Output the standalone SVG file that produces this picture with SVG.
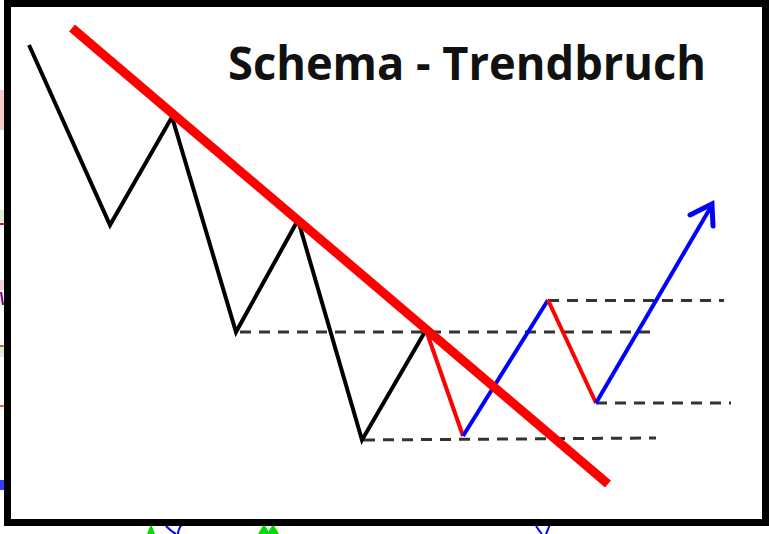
<svg xmlns="http://www.w3.org/2000/svg" width="769" height="534" viewBox="0 0 769 534">
<style>
.zz{fill:none;stroke-width:4;stroke-linejoin:miter;stroke-linecap:butt}
.dash{fill:none;stroke:#333;stroke-width:3;stroke-dasharray:11 8}
.title{font-family:"Open Sans","Liberation Sans",sans-serif;font-weight:bold;font-size:46px;fill:#111}
</style>
<rect x="0" y="0" width="769" height="534" fill="#fff"/>
<g id="background-artifacts">
<rect x="0" y="90" width="4" height="40" fill="#f4caca"/>
<rect x="0" y="210" width="4" height="12" fill="#d8f0d8"/>
<rect x="0" y="223" width="4" height="2" fill="#f00"/>
<rect x="0" y="280" width="4" height="10" fill="#f4d0d0"/>
<path d="M1 292 L3 305" stroke="#800080" stroke-width="2"/>
<rect x="0" y="345" width="4" height="12" fill="#d8f0d8"/>
<rect x="0" y="345" width="4" height="2" fill="#e06030"/>
<rect x="0" y="405" width="4" height="2" fill="#e06030"/>
<rect x="0" y="480" width="4" height="10" fill="#3040ff"/>
<polygon points="147,534 151,524 155,534" fill="#00dd00"/>
<path d="M166 526 Q172 532 176 534 M182 524 Q178 530 178 534" stroke="#0000ff" stroke-width="2" fill="none"/>
<polygon points="258,534 264,524 270,534" fill="#00dd00"/>
<polygon points="267,534 273,524 279,534" fill="#00dd00"/>
<path d="M536 526 Q540 532 542 534 M550 524 Q548 530 546 534" stroke="#0000ff" stroke-width="2" fill="none"/>
</g>
<g id="frame">
<rect x="7.5" y="3.5" width="758" height="519" fill="none" stroke="#000" stroke-width="7"/>
</g>
<g id="title">
<text class="title" x="228" y="80" textLength="478" lengthAdjust="spacingAndGlyphs">Schema - Trendbruch</text>
</g>
<g id="connectors">
<g id="support-lines">
<line class="dash" x1="240" y1="332" x2="656" y2="332"/>
<line class="dash" x1="364" y1="440" x2="656" y2="438"/>
<line class="dash" x1="548" y1="300.5" x2="724" y2="300.5"/>
<line class="dash" x1="596" y1="403" x2="731" y2="403"/>
</g>
<g id="downtrend">
<polyline class="zz" stroke="#000" points="29,45 110,225 172,117 236,332 298,220 362,440 426,330"/>
</g>
<g id="break">
<polyline class="zz" stroke="#f00" points="426,330 463,436"/>
<polyline class="zz" stroke="#00f" points="463,436 548,300"/>
<polyline class="zz" stroke="#f00" points="548,300 596,403"/>
<polyline class="zz" stroke="#00f" points="596,403 712,205"/>
<polyline fill="none" stroke="#00f" stroke-width="5" stroke-linecap="round" points="690,215 712,204 713,226"/>
</g>
<g id="trendline">
<line x1="72" y1="28" x2="608" y2="484" stroke="#f00" stroke-width="9"/>
</g>
</g>
</svg>
